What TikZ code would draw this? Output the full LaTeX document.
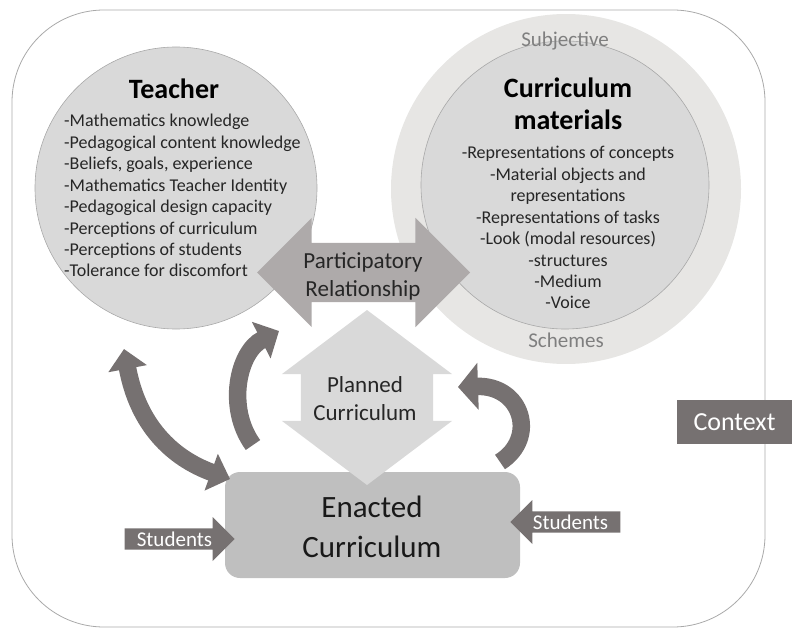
\documentclass[tikz,border=0pt]{standalone}
\usepackage{fontspec}
\setmainfont{Carlito}
\usetikzlibrary{shapes.arrows,arrows.meta}
\definecolor{darkgray}{HTML}{767171}
\definecolor{lightfill}{HTML}{D9D9D9}
\definecolor{midfill}{HTML}{AEAAAA}
\definecolor{boxfill}{HTML}{BFBFBF}
\definecolor{ringfill}{HTML}{E7E6E4}
\definecolor{edgegray}{HTML}{A9A9A9}
\definecolor{labelgray}{HTML}{7F7F7F}
\def \itemsep {21.4}
\tikzstyle{bubble}=[circle, draw=edgegray, line width=0.6pt, fill=lightfill, inner sep=0]
\tikzstyle{listitem}=[font=\fontsize{18}{20}\selectfont, inner sep=0, text=black!85]
\tikzstyle{heading}=[font=\bfseries\fontsize{28}{32}\selectfont, inner sep=0, anchor=base]
\tikzstyle{ringlbl}=[font=\fontsize{21}{24}\selectfont, inner sep=0, anchor=base, text=labelgray]
\tikzstyle{blocklbl}=[font=\fontsize{23}{28}\selectfont, align=center, inner sep=0, anchor=base, text=black!85]
\tikzstyle{stud}=[single arrow, fill=darkgray, text=white, font=\fontsize{21}{22}\selectfont, inner xsep=1pt, inner ysep=2.5pt, single arrow head extend=11pt, minimum width=44pt, minimum height=110pt]
\tikzstyle{curvy}=[draw=darkgray, line width=17.5pt, -{Triangle[length=20pt,width=40pt]}]

\begin{document}
\begin{tikzpicture}[x=1pt, y=-1pt]
\useasboundingbox (0,0) rectangle (792,631);
\draw[edgegray, line width=0.8pt, rounded corners=92pt] (12,10) rectangle (765,627);

\node[circle, fill=ringfill, minimum size=350pt, inner sep=0] (ring) at (566,189) {};
\node[bubble, minimum size=288pt] (cm) at (565,185) {};
\node[bubble, minimum size=282pt] (tch) at (176,188) {};
\node[ringlbl] (subj) at (565,47) {Subjective};
\node[ringlbl] (schm) at (566,347) {Schemes};

\node[heading] (tchhead) at (174,99) {Teacher};
\foreach \t [count=\i] in {-Mathematics knowledge, -Pedagogical content knowledge, {-Beliefs, goals, experience}, -Mathematics Teacher Identity, -Pedagogical design capacity, -Perceptions of curriculum, -Perceptions of students, -Tolerance for discomfort}
    \node[listitem, anchor=base west] (tch\i) at (64, {127 + (\i - 1) * \itemsep}) {\t};

\node[heading, align=center] (cmhead) at (568,130) {Curriculum\\materials};
\foreach \t [count=\i] in {-Representations of concepts, -Material objects and, representations, -Representations of tasks, {-Look (modal resources)}, -structures, -Medium, -Voice}
    \node[listitem, anchor=base] (cm\i) at (568, {159 + (\i - 1) * \itemsep}) {\t};

\node[double arrow, fill=midfill, minimum height=213pt, minimum width=109pt, double arrow head extend=25pt, inner xsep=0, inner ysep=29.5pt] (part) at (363.5,272.5) {};
\node[blocklbl] (partlbl) at (363,296) {Participatory\\Relationship};

\node[rectangle, rounded corners=15pt, fill=boxfill, minimum width=295pt, minimum height=106pt] (enact) at (372.5,525) {};
\node[align=center, inner sep=0, anchor=base, font=\fontsize{31}{40}\selectfont, text=black!90] (enactlbl) at (372,557) {Enacted\\Curriculum};

\node[double arrow, shape border rotate=90, fill=lightfill, minimum height=175pt, minimum width=170pt, double arrow head extend=19pt, double arrow tip angle=106, inner xsep=66pt, inner ysep=0] (plan) at (367,397.5) {};
\node[blocklbl] (planlbl) at (365,420) {Planned\\Curriculum};

\node[stud, anchor=tip] (stuL) at (235,539) {Students};
\node[stud, shape border rotate=180, anchor=tip] (stuR) at (510,522) {Students};

\node[fill=darkgray, text=white, font=\fontsize{26}{30}\selectfont, minimum width=115pt, minimum height=44pt, inner sep=0] (ctx) at (734.5,422) {Context};

\coordinate (b1s) at (124,349);
\coordinate (b1e) at (230,479);
\coordinate (b2s) at (253,445);
\coordinate (b2e) at (279,331);
\coordinate (b3s) at (500,462);
\coordinate (b3e) at (458,387);
\draw[curvy, {Triangle[length=20pt,width=38pt]}-{Triangle[length=20pt,width=38pt]}] (b1s) .. controls (138,425) and (172,458) .. (b1e);
\draw[curvy] (b2s) .. controls (226,408) and (238,352) .. (b2e);
\draw[curvy, -{Triangle[length=20pt,width=46pt]}] (b3s) .. controls (538,438) and (522,385) .. (b3e);
\end{tikzpicture}
\end{document}
